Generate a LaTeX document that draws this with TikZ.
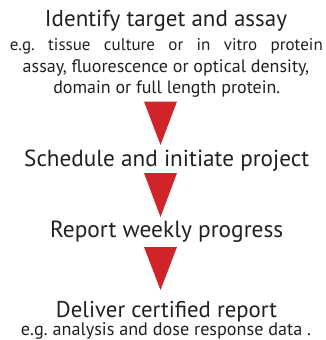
\documentclass[tikz,border=0pt]{standalone}
\usepackage{fontspec}
\setmainfont{PT Sans}
\frenchspacing
\definecolor{txt}{HTML}{231F20}
\definecolor{tri}{HTML}{D1232A}
\begin{document}
\begin{tikzpicture}[x=1pt,y=-1pt,
  head/.style={anchor=base,text=txt,inner sep=0pt,font=\fontsize{22}{24}\selectfont},
  sub/.style={anchor=base,text=txt,inner sep=0pt,font=\fontsize{17}{19}\selectfont},
  arrowtri/.style={fill=tri}]
\useasboundingbox (0,0) rectangle (326,340);
\node[head] (h1) at (166,27) {\resizebox{242pt}{!}{Identify target and assay}};
\node[sub] (s1) at (166.3,50.5) {\makebox[313pt][s]{e.g. tissue culture or in vitro protein}};
\node[sub] (s2) at (166,72) {\resizebox{286.5pt}{!}{assay, fluorescence or optical density,}};
\node[sub] (s3) at (166.8,93.5) {\resizebox{227pt}{!}{domain or full length protein.}};
\node[head] (h2) at (166.7,166) {\resizebox{285pt}{!}{Schedule and initiate project}};
\node[head] (h3) at (166.7,237) {\resizebox{233pt}{!}{Report weekly progress}};
\node[head] (h4) at (166.5,317) {\resizebox{221pt}{!}{Deliver certified report}};
\node[sub] (s4) at (166,335) {\resizebox{290pt}{!}{e.g. analysis and dose response data .}};
\fill[arrowtri] (144,101.5) -- (177,101.5) -- (160.5,145) -- cycle;
\fill[arrowtri] (144,173) -- (177,173) -- (160.5,217) -- cycle;
\fill[arrowtri] (144,247) -- (177,247) -- (160.5,290) -- cycle;
\end{tikzpicture}
\end{document}
